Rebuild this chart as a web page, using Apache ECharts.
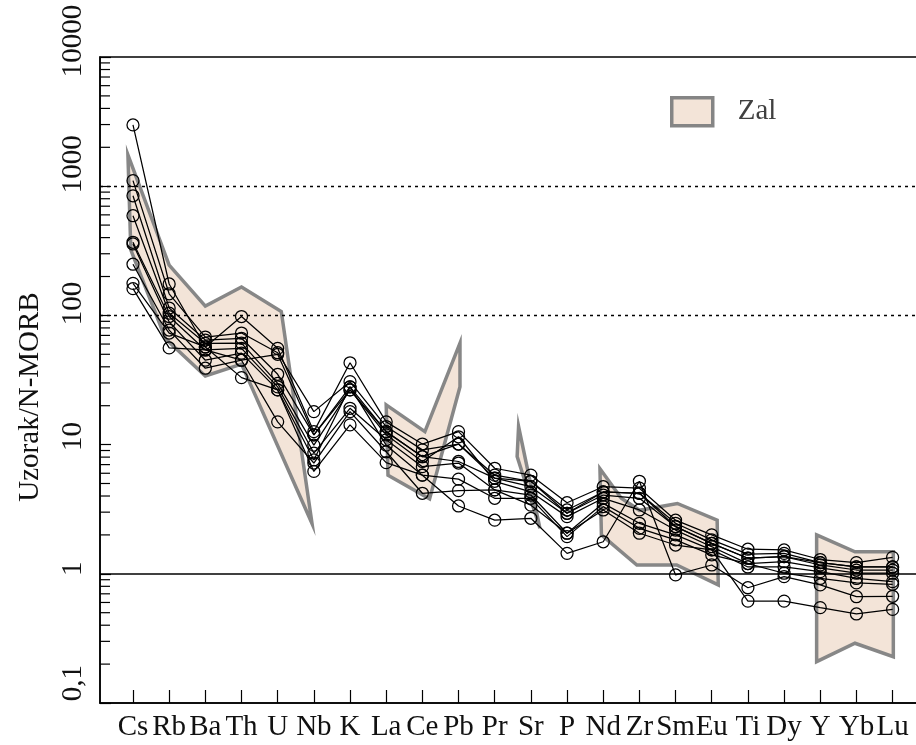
<!DOCTYPE html>
<html><head><meta charset="utf-8">
<script src="https://cdn.jsdelivr.net/npm/echarts@6/dist/echarts.min.js"></script>
<style>html,body{margin:0;padding:0;background:#fff}#c{width:916px;height:745px}</style>
</head><body><div id="c"></div>
<script>
// ---- data ----
const categories = ['Cs','Rb','Ba','Th','U','Nb','K','La','Ce','Pb','Pr','Sr','P','Nd','Zr','Sm','Eu','Ti','Dy','Y','Yb','Lu'];
const yTickValues = [0.1, 1, 10, 100, 1000, 10000];
const yTickLabels = ['0,1', '1', '10', '100', '1000', '10000'];
const minorTickValues = [0.2,0.3,0.4,0.5,0.6,0.7,0.8,0.9, 2,3,4,5,6,7,8,9, 20,30,40,50,60,70,80,90, 200,300,400,500,600,700,800,900, 2000,3000,4000,5000,6000,7000,8000,9000];

const sample1 = [2980,175,57,98,55.6,12.6,43,15,10.1,12.6,6.56,5.8,3.55,4.72,4.6,2.6,2.0,1.55,1.53,1.29,1.22,1.34];
const sample2 = [1104,147,68,73,51.4,18,30.7,13.8,9.1,10.1,5.8,5.2,3.12,4.3,4.2,2.46,1.83,1.42,1.44,1.22,1.13,1.13];
const sample3 = [843,114,64.5,66.5,35,11.9,28,12.6,8.06,7.4,5.5,4.72,2.94,4.07,3.84,2.32,1.72,1.32,1.36,1.17,1.07,1.07];
const sample4 = [591,104,60.8,61,29.8,9.9,26.5,11.9,7.4,11.5,5.2,4.3,2.77,3.84,3.12,2.18,1.62,1.2,1.24,1.11,1.01,1.01];
const sample5 = [368,98,54,55.6,28,8.6,19.1,10.9,6.75,7.2,4.46,4.07,2.06,3.51,2.46,2.0,1.53,1.13,1.13,1.04,0.92,0.87];
const sample6 = [357,89,45,51,26.5,7.6,28,9.9,5.8,5.4,3.84,3.84,1.94,3.31,2.25,1.83,1.4,1.2,1.01,0.92,0.85,0.83];
const sample7 = [249,77,39,45,15,7.2,18,8.8,4.2,4.4,4.46,3.4,2.06,3.12,2.06,1.67,1.53,0.615,0.615,0.547,0.489,0.53];
const sample8 = [177,73,57,33,26.5,6.2,14.2,7.25,5.8,3.35,2.6,2.69,1.44,1.77,5.2,0.98,1.17,0.78,0.95,0.82,0.665,0.67];
const sample9 = [161,56,54,45,50,11.9,26.5,12.6,8.06,10.1,5.5,5.2,2.94,4.3,4.2,2.32,1.72,1.32,1.36,1.22,1.13,1.13];
const samples = [sample1, sample2, sample3, sample4, sample5, sample6, sample7, sample8, sample9];

// Zal field outline pieces: [category position, value]
const zalCsNb = [[-0.14,1750],[1,245],[2,118],[3,166],[4.1,107],[4.95,2.45],[3,42],[2,34],[0.9,66],[-0.06,321]];
const zalLaPb = [[7,20.3],[8.07,12.6],[9.04,61],[9.04,28],[8.2,3.8],[7.05,5.8]];
const zalSr = [[10.66,13.8],[10.62,8.1],[11.25,2.25]];
const zalNdEu = [[12.91,6.5],[13.5,3.85],[14,3.1],[15.05,3.5],[16.15,2.6],[16.18,0.82],[15.03,1.17],[13.93,1.17],[12.95,2.0]];
const zalYLu = [[18.9,2.0],[19.96,1.48],[21.02,1.48],[21.02,0.228],[19.96,0.29],[18.9,0.209]];
const zalPieces = [zalCsNb, zalLaPb, zalSr, zalNdEu, zalYLu];

// ---- chart ----
const FONT = '"Liberation Serif", "Times New Roman", serif';
const XMIN = -0.912, XMAX = 21.73;
const chart = echarts.init(document.getElementById('c'), null, {renderer: 'canvas'});

// upward shift of each rotated y label (style only)
const yLabelLift = [20, 5, 8, 12, 22, 16];
const yRich = {};
yLabelLift.forEach((d, i) => {
  yRich['l' + i] = {fontFamily: FONT, fontSize: 29, color: '#111', padding: [0, 0, 0, 2 * d]};
});

const lineSeries = samples.map((vals, k) => ({
  type: 'line',
  name: 'S' + (k + 1),
  data: vals.map((v, i) => [i, v]),
  symbol: 'circle',
  symbolSize: 12,
  itemStyle: {color: 'rgba(0,0,0,0)', borderColor: '#000', borderWidth: 1.25},
  lineStyle: {color: '#000', width: 1.25},
  emphasis: {disabled: true},
  z: 5
}));

const option = {
  animation: false,
  backgroundColor: '#fff',
  grid: {left: 100, top: 57, right: -3, bottom: 42, containLabel: false, outerBoundsMode: 'none',
    show: true, borderColor: '#000', borderWidth: 1.5, backgroundColor: 'transparent'},
  legend: {
    left: 670, top: 96, padding: 0,
    itemWidth: 41, itemHeight: 28,
    data: [{name: 'Zal', icon: 'rect', itemStyle: {color: '#f3e4d8', borderColor: '#858585', borderWidth: 3.5}}],
    textStyle: {fontFamily: FONT, fontSize: 29, color: '#404040', padding: [0, 0, 0, 20]},
    selectedMode: false
  },
  xAxis: {
    type: 'value', min: XMIN, max: XMAX,
    axisLine: {show: true, onZero: false, lineStyle: {color: '#000', width: 1.5}},
    axisTick: {show: true, inside: true, length: 13, lineStyle: {color: '#000', width: 1.2}, customValues: categories.map((c, i) => i)},
    axisLabel: {show: true, customValues: categories.map((c, i) => i), formatter: v => categories[Math.round(v)], fontFamily: FONT, fontSize: 29, color: '#111', margin: 10},
    splitLine: {show: false}
  },
  yAxis: {
    type: 'log', logBase: 10, min: 0.1, max: 10000,
    name: 'Uzorak/N-MORB', nameLocation: 'middle', nameRotate: 90, nameGap: 55,
    nameTextStyle: {fontFamily: FONT, fontSize: 29, color: '#111', padding: [0, 34, 0, 0]},
    axisLine: {show: true, onZero: false, lineStyle: {color: '#000', width: 1.5}},
    axisTick: {show: true, inside: true, length: 11, lineStyle: {color: '#000', width: 1.2}},
    axisLabel: {
      rotate: 90, margin: 27, align: 'center', verticalAlign: 'middle',
      fontFamily: FONT, fontSize: 29, color: '#111',
      formatter: v => {
        const idx = yTickValues.findIndex(t => Math.abs(Math.log10(t) - Math.log10(v)) < 1e-6);
        if (idx < 0) return '';
        return '{l' + idx + '|' + yTickLabels[idx] + '}';
      },
      rich: yRich
    },
    splitLine: {show: false}
  },
  series: [
    {
      type: 'custom', name: 'Zal',
      coordinateSystem: 'cartesian2d',
      data: zalPieces.map((p, i) => [p[0][0], p[0][1], i]),
      encode: {x: 0, y: 1},
      renderItem: (params, api) => {
        const pts = zalPieces[params.dataIndex].map(p => api.coord(p));
        return {type: 'polygon', shape: {points: pts},
          style: {fill: '#f3e4d8', stroke: '#878787', lineWidth: 3.5, lineJoin: 'miter'}};
      },
      itemStyle: {color: '#f3e4d8', borderColor: '#858585', borderWidth: 3.5},
      silent: true, z: 1
    },
    {
      type: 'custom', name: 'minorTicks',
      coordinateSystem: 'cartesian2d',
      data: minorTickValues.map(v => [XMIN, v]),
      encode: {x: 0, y: 1},
      renderItem: (params, api) => {
        const p = api.coord([XMIN, api.value(1)]);
        return {type: 'line', shape: {x1: p[0], y1: p[1], x2: p[0] + 10, y2: p[1]},
          style: {stroke: '#000', lineWidth: 1.2}};
      },
      silent: true, z: 6
    },
    {
      type: 'line', name: 'refLines', data: [],
      markLine: {
        silent: true, symbol: 'none', label: {show: false},
        data: [
          {yAxis: 1000, lineStyle: {type: [3, 4], color: '#000', width: 1.3}},
          {yAxis: 100, lineStyle: {type: [3, 4], color: '#000', width: 1.3}},
          {yAxis: 1, lineStyle: {type: 'solid', color: '#000', width: 1.5}}
        ]
      },
      z: 3
    }
  ].concat(lineSeries)
};
chart.setOption(option);
</script>
</body></html>
